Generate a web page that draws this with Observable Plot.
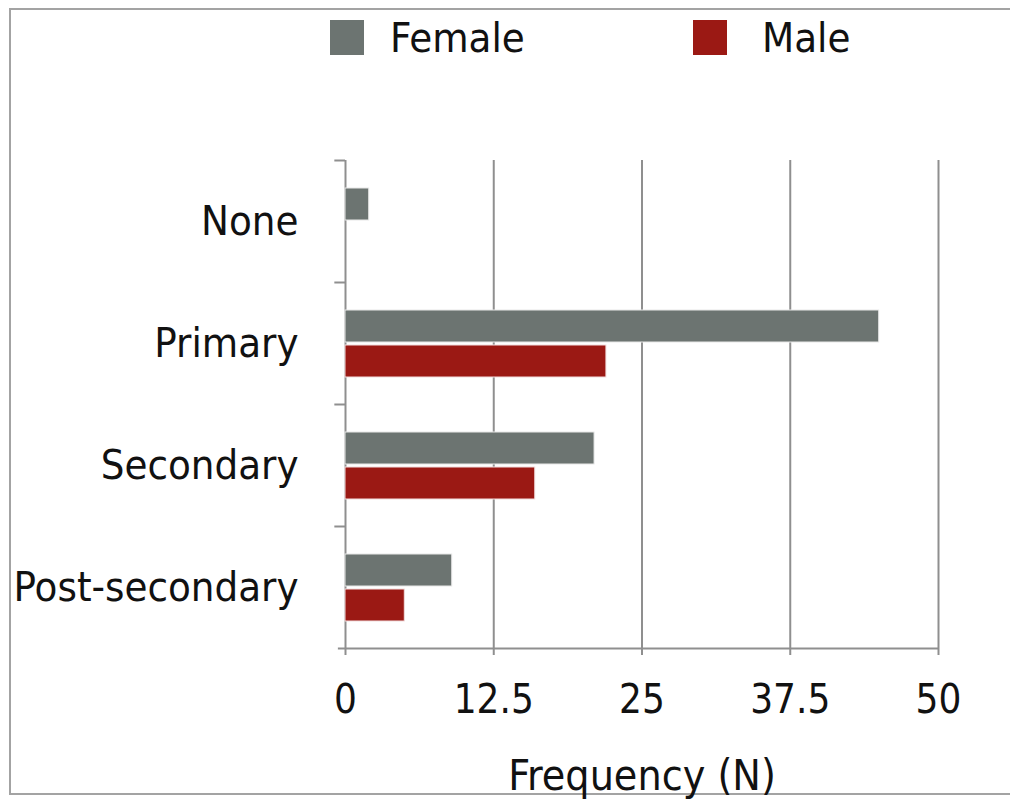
<!DOCTYPE html>
<html>
<head>
<meta charset="utf-8">
<script src="https://cdn.jsdelivr.net/npm/d3@7"></script>
<script src="https://cdn.jsdelivr.net/npm/@observablehq/plot@0.6"></script>
<style>
  html, body { margin: 0; padding: 0; background: #fff; overflow: hidden; }
  #wrap { position: relative; width: 1010px; height: 800px; overflow: hidden; font-family: "DejaVu Sans Condensed", "DejaVu Sans", sans-serif; }
  .ln { position: absolute; background: #a3a3a3; }
  #chart { position: absolute; left: 0; top: 0; }
  .leg { position: absolute; top: 17px; display: flex; align-items: center; font-size: 41.5px; color: #111; }
  .sw { width: 34px; height: 35px; margin-right: 26px; }
</style>
</head>
<body>
<div id="wrap">
  <div class="ln" style="left:9px; top:8px; width:1001px; height:2px;"></div>
  <div class="ln" style="left:9px; top:8px; width:2px; height:787px;"></div>
  <div class="ln" style="left:9px; top:793px; width:1001px; height:2px;"></div>
  <div id="chart"></div>
  <div class="leg" style="left:330px; top:13px;"><div class="sw" style="background:#6c7471"></div><span>Female</span></div>
  <div class="leg" style="left:693px; top:13px;"><div class="sw" style="background:#9b1914; margin-right:35px"></div><span>Male</span></div>
</div>
<script>
const categories = ["None", "Primary", "Secondary", "Post-secondary"];
const female = [2, 45, 21, 9];
const male = [0, 22, 16, 5];
const xTicks = [0, 12.5, 25, 37.5, 50];
const seriesNames = ["Female", "Male"];
const seriesColors = ["#6c7471", "#9b1914"];

const femaleData = categories.map((c, i) => ({category: c, value: female[i]}));
const maleData = categories.map((c, i) => ({category: c, value: male[i]}));

const gridColor = "#8f8f8f";

const chart = Plot.plot({
  width: 1010,
  height: 800,
  marginLeft: 345,
  marginRight: 72,
  marginTop: 160,
  marginBottom: 152,
  style: {fontFamily: "'DejaVu Sans Condensed', 'DejaVu Sans', sans-serif", fontSize: "40px", color: "#111", background: "transparent"},
  x: {domain: [0, 50], ticks: xTicks},
  y: {domain: categories, padding: 0},
  marks: [
    // vertical gridlines
    Plot.ruleX(xTicks.slice(1), {stroke: gridColor, strokeWidth: 2}),
    // y axis line
    Plot.ruleX([0], {stroke: gridColor, strokeWidth: 2}),
    // bars
    Plot.barX(femaleData, {y: "category", x: "value", fill: seriesColors[0], insetTop: 28, insetBottom: 62, stroke: "#e8e8e8", strokeWidth: 1}),
    Plot.barX(maleData.filter(d => d.value > 0), {y: "category", x: "value", fill: seriesColors[1], insetTop: 63, insetBottom: 27, stroke: "#f2dede", strokeWidth: 1}),
    // category boundary ticks
    Plot.ruleY(categories, {y: d => d, x1: -0.9, x2: 0, dy: -61, stroke: gridColor, strokeWidth: 2}),
    Plot.ruleY(categories.slice(-1), {y: d => d, x1: -0.6, x2: 50, dy: 61, stroke: gridColor, strokeWidth: 2}),
    Plot.axisX({ticks: xTicks, tickSize: 7, tickPadding: 29, stroke: gridColor, strokeWidth: 2, tickFormat: d => String(d), fontSize: 40, label: null}),
    Plot.axisX({ticks: [], tickSize: 0, label: "Frequency (N)", labelAnchor: "center", labelOffset: 141, labelArrow: "none", fontSize: 42.5}),
    Plot.axisY({tickSize: 0, tickPadding: 47, fontSize: 41.5, label: null})
  ]
});
chart.style.overflow = "visible";
document.getElementById("chart").appendChild(chart);
</script>
</body>
</html>
